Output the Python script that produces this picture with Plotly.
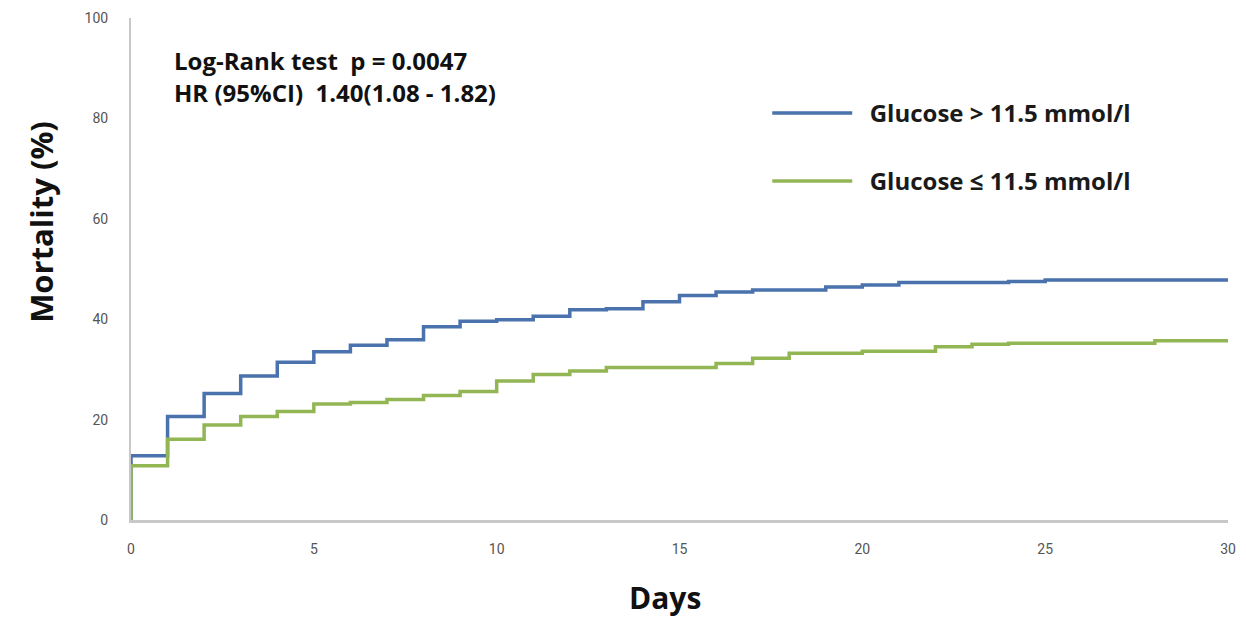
import plotly.graph_objects as go

# Data (Kaplan-Meier style cumulative mortality, %)
days_high = [0, 0, 1, 2, 3, 4, 5, 6, 7, 8, 9, 10, 11, 12, 13, 14, 15, 16, 17, 19, 20, 21, 24, 25, 30]
mort_high = [0, 12.8, 20.6, 25.2, 28.7, 31.4, 33.5, 34.8, 35.9, 38.5, 39.6, 39.9, 40.6, 41.9, 42.1,
             43.5, 44.7, 45.4, 45.8, 46.4, 46.8, 47.3, 47.5, 47.8, 47.8]

days_low = [0, 0, 1, 2, 3, 4, 5, 6, 7, 8, 9, 10, 11, 12, 13, 16, 17, 18, 20, 22, 23, 24, 28, 30]
mort_low = [0, 10.8, 16.1, 18.9, 20.6, 21.6, 23.1, 23.4, 24.0, 24.8, 25.6, 27.7, 29.0, 29.7, 30.4,
            31.2, 32.2, 33.2, 33.6, 34.5, 35.0, 35.2, 35.7, 35.7]

name_high = "Glucose > 11.5 mmol/l"
name_low = "Glucose \u2264 11.5 mmol/l"
x_ticks = [0, 5, 10, 15, 20, 25, 30]
y_ticks = [0, 20, 40, 60, 80, 100]
stats_lines = ["Log-Rank test  p = 0.0047", "HR (95%CI)  1.40(1.08 - 1.82)"]

FONT = "Open Sans"
TICKFONT = "Liberation Sans Narrow, Roboto, sans-serif"
BLUE = "#4a72ad"
GREEN = "#93b654"
NB = "\u00a0\u00a0"

fig = go.Figure()
fig.add_trace(go.Scatter(x=days_high, y=mort_high, mode="lines", name=NB + name_high,
                         line=dict(color=BLUE, width=3.5, shape="hv"), legendgroup="a"))
fig.add_trace(go.Scatter(x=days_low, y=mort_low, mode="lines", name=NB + name_low,
                         line=dict(color=GREEN, width=3.5, shape="hv"), legendgroup="b"))

fig.update_layout(
    width=1246, height=617,
    margin=dict(l=131, r=10, t=18, b=97),
    paper_bgcolor="white", plot_bgcolor="white",
    font=dict(family=FONT, color="#222"),
    showlegend=True,
    legend=dict(x=0.58, y=0.855, xanchor="left", yanchor="top",
                font=dict(family=FONT, size=24, color="#1a1a1a", weight="bold"),
                itemwidth=80, tracegroupgap=34, bgcolor="rgba(0,0,0,0)"),
)
fig.update_xaxes(range=[0, 30], tickvals=x_ticks, showgrid=False, zeroline=False,
                 showline=True, linecolor="#c8c8c8", linewidth=3,
                 ticks="", ticklabelstandoff=14,
                 tickfont=dict(family=TICKFONT, size=14, color="#555"))
fig.update_yaxes(range=[0, 100], tickvals=y_ticks, showgrid=False, zeroline=False,
                 showline=True, linecolor="#c8c8c8", linewidth=2,
                 ticks="", ticklabelstandoff=18,
                 tickfont=dict(family=TICKFONT, size=14, color="#555"))

fig.add_annotation(text=stats_lines[0], xref="paper", yref="paper", x=0.037, y=0.915,
                   xanchor="left", yanchor="middle", showarrow=False,
                   font=dict(family=FONT, size=24, color="#111", weight="bold"))
fig.add_annotation(text=stats_lines[1], xref="paper", yref="paper", x=0.037, y=0.852,
                   xanchor="left", yanchor="middle", showarrow=False,
                   font=dict(family=FONT, size=24, color="#111", weight="bold"))
fig.add_annotation(text="Mortality (%)", xref="paper", yref="paper", x=-0.082, y=0.594,
                   xanchor="center", yanchor="middle", textangle=-90, showarrow=False,
                   font=dict(family=FONT, size=31, color="#111", weight="bold"))
fig.add_annotation(text="Days", xref="paper", yref="paper", x=0.487, y=-0.155,
                   xanchor="center", yanchor="middle", showarrow=False,
                   font=dict(family=FONT, size=30, color="#111", weight="bold"))

fig.write_html("out.html")
